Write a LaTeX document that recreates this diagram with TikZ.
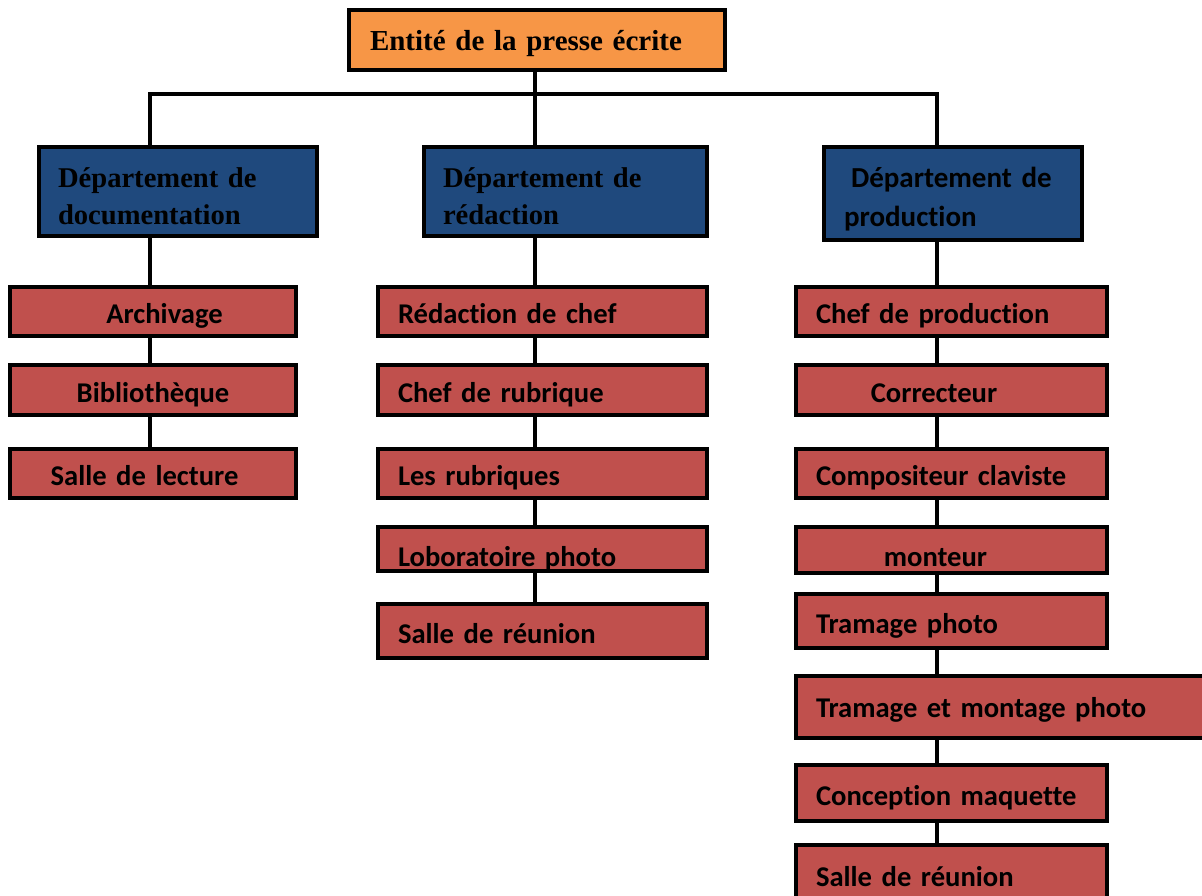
\documentclass[tikz,border=0pt]{standalone}
\usepackage{fontspec}
\setmainfont{Liberation Serif}
\newfontfamily\calibri{Carlito}[Ligatures=NoCommon]
\definecolor{HeadOrange}{HTML}{F79646}
\definecolor{DeptBlue}{HTML}{1F497D}
\definecolor{UnitRed}{HTML}{C0504D}

\begin{document}
\begin{tikzpicture}[
  x=0.5pt, y=-0.5pt,
  head/.style={draw=black, line width=2pt, fill=HeadOrange, minimum height=30pt, inner xsep=10.5pt, text width=167pt, align=left, text height=10pt, text depth=0pt, font=\bfseries\fontsize{14.5}{17}\selectfont},
  dept/.style={draw=black, line width=2pt, fill=DeptBlue, minimum height=44.5pt, inner xsep=9.5pt, align=left, text height=15pt, font=\bfseries\fontsize{14.3}{18.5}\selectfont},
  unit/.style={draw=black, line width=2pt, fill=UnitRed, inner xsep=10pt, inner ysep=1pt, align=left, text height=12pt, text depth=0pt, font=\calibri\bfseries\fontsize{14.3}{17}\selectfont},
  colA/.style={unit, inner xsep=4pt, text width=135pt, align=center},
  colB/.style={unit, text width=144.5pt},
  colC/.style={unit, text width=135.5pt},
  link/.style={line width=1.7pt, black}
]
\useasboundingbox (0,0) rectangle (1202,895);

% top and departments
\node[head] (entite) at (537,40) {Entité de la presse écrite};
\node[dept, text width=120pt] (depdoc) at (178,191.5) {Département de\\documentation};
\node[dept, text width=122.5pt] (depred) at (565.5,191.5) {Département de\\rédaction};
\node[dept, text width=109pt, minimum height=46.5pt, inner xsep=10pt, text height=16pt, font=\calibri\bfseries\fontsize{14.5}{19.5}\selectfont] (depprod) at (953,193.5) {\hspace*{3.5pt}Département de\\production};

% documentation
\node[colA, minimum height=24.5pt] (archiv) at (153,311.5) {\hspace*{11.5pt}Archivage};
\node[colA, minimum height=25pt] (biblio) at (153,390) {Bibliothèque};
\node[colA, minimum height=24.5pt] (lecture) at (153,473.5) {\hspace*{-8.5pt}Salle de lecture};

% redaction
\node[colB, minimum height=24.5pt] (redchef) at (542.5,311.5) {Rédaction de chef};
\node[colB, minimum height=25pt] (chefrub) at (542.5,390) {Chef de rubrique};
\node[colB, minimum height=24.5pt] (rubriques) at (542.5,473.5) {Les rubriques};
\node[colB, minimum height=22pt, text height=17pt] (labo) at (542.5,549) {Loboratoire photo};
\node[colB, minimum height=27pt] (reunionB) at (542.5,631) {Salle de réunion};

% production
\node[colC, minimum height=24.5pt] (chefprod) at (951.5,311.5) {Chef de production};
\node[colC, minimum height=25pt, align=center] (correct) at (951.5,390) {\hspace*{-17.5pt}Correcteur};
\node[colC, minimum height=24.5pt] (compos) at (951.5,473.5) {Compositeur claviste};
\node[colC, minimum height=23pt, text height=16pt, align=center] (monteur) at (951.5,550) {\hspace*{-16pt}monteur};
\node[colC, minimum height=27pt] (tramage) at (951.5,621) {Tramage photo};
\node[unit, text width=188.5pt, minimum height=31pt, text height=10pt] (tramont) at (1004.5,707) {Tramage et montage photo};
\node[colC, minimum height=28pt] (maquette) at (951.5,793) {Conception maquette};
\node[colC, minimum height=29pt] (reunionC) at (951.5,874) {Salle de réunion};

% connectors
\coordinate (spineA) at (150,0);
\coordinate (spineB) at (535,0);
\coordinate (spineC) at (937,0);
\coordinate (bus) at (535,94);
\draw[link] (entite.south -| spineB) -- (depred.north -| spineB);
\draw[link] (depdoc.north -| spineA) |- (bus) -| (depprod.north -| spineC);
\foreach \a/\b in {depdoc/archiv, archiv/biblio, biblio/lecture}
  \draw[link] (\a.south -| spineA) -- (\b.north -| spineA);
\foreach \a/\b in {depred/redchef, redchef/chefrub, chefrub/rubriques, rubriques/labo, labo/reunionB}
  \draw[link] (\a.south -| spineB) -- (\b.north -| spineB);
\foreach \a/\b in {depprod/chefprod, chefprod/correct, correct/compos, compos/monteur, monteur/tramage, tramage/tramont, tramont/maquette, maquette/reunionC}
  \draw[link] (\a.south -| spineC) -- (\b.north -| spineC);
\end{tikzpicture}
\end{document}
